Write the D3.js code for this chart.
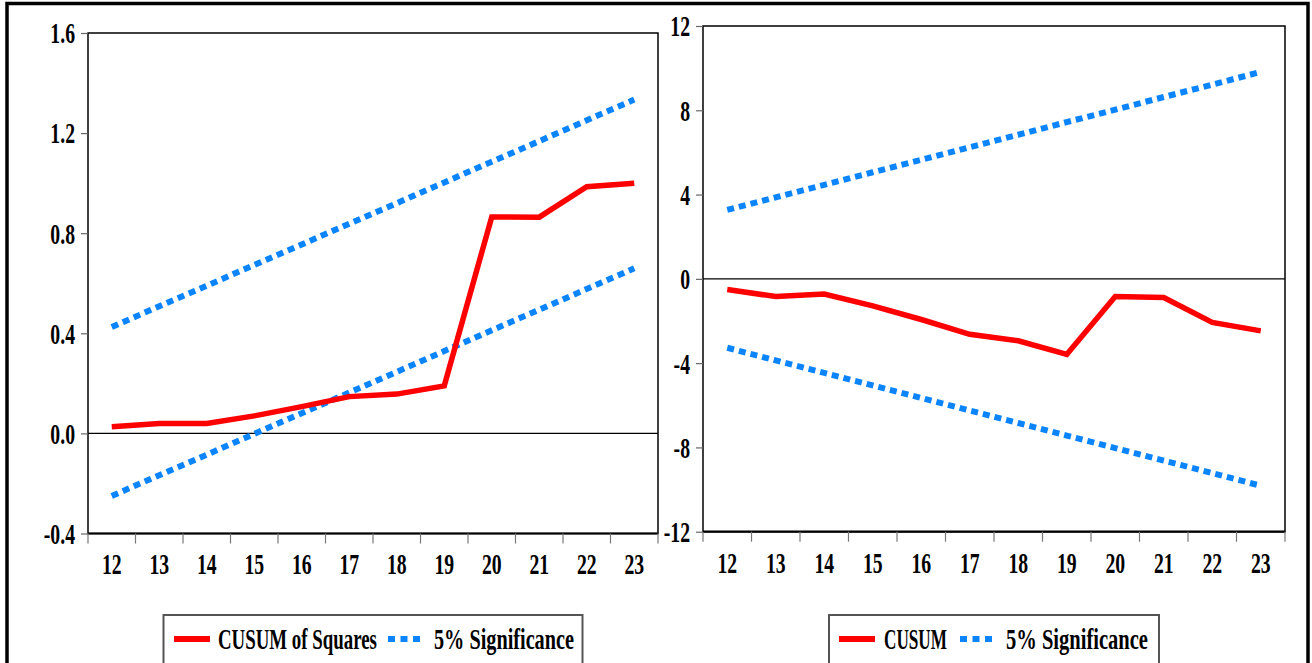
<!DOCTYPE html>
<html>
<head>
<meta charset="utf-8">
<script src="https://cdn.jsdelivr.net/npm/d3@7"></script>
<style>
  html, body { margin: 0; padding: 0; background: #fff; }
  svg text { font-family: "Liberation Serif", "Times New Roman", serif; font-weight: bold; fill: #000; }
</style>
</head>
<body>
<svg id="chart" width="1312" height="663"></svg>
<script>
// ---- data ----
const years = ["12","13","14","15","16","17","18","19","20","21","22","23"];

const cusumSq      = [0.027, 0.040, 0.040, 0.070, 0.107, 0.147, 0.157, 0.190, 0.865, 0.864, 0.986, 1.000];
const cusumSqUpper = [0.425, 0.508, 0.590, 0.673, 0.755, 0.838, 0.920, 1.003, 1.086, 1.168, 1.251, 1.334];
const cusumSqLower = [-0.250, -0.167, -0.085, -0.002, 0.081, 0.163, 0.246, 0.329, 0.412, 0.494, 0.577, 0.660];

const cusum      = [-0.51, -0.84, -0.72, -1.28, -1.93, -2.63, -2.94, -3.59, -0.84, -0.89, -2.07, -2.47];
const cusumUpper = [3.27, 3.87, 4.46, 5.06, 5.65, 6.25, 6.84, 7.44, 8.03, 8.63, 9.22, 9.82];
const cusumLower = [-3.27, -3.87, -4.46, -5.06, -5.65, -6.25, -6.84, -7.44, -8.03, -8.63, -9.22, -9.82];

const leftTicks  = [-0.4, 0.0, 0.4, 0.8, 1.2, 1.6];
const rightTicks = [-12, -8, -4, 0, 4, 8, 12];

const leftLegend  = ["CUSUM of Squares", "5% Significance"];
const rightLegend = ["CUSUM", "5% Significance"];

// ---- drawing ----
const svg = d3.select("#chart");
const RED = "#ff0000", BLUE = "#0a84ff";
const FS = 29;

// outer frame
svg.append("rect").attr("x", 7).attr("y", 3.5).attr("width", 1301).attr("height", 720)
  .attr("fill", "none").attr("stroke", "#000").attr("stroke-width", 3.5);

function panel(cfg) {
  const x = d3.scaleBand().domain(years).range([cfg.x0, cfg.x1]).padding(0);
  const y = d3.scaleLinear().domain(cfg.domain).range([cfg.y1, cfg.y0]);
  const g = svg.append("g");

  // zero line
  g.append("line").attr("x1", cfg.x0).attr("x2", cfg.x1)
    .attr("y1", y(0)).attr("y2", y(0)).attr("stroke", "#000").attr("stroke-width", 1.3);

  // plot box
  g.append("rect").attr("x", cfg.x0).attr("y", cfg.y0)
    .attr("width", cfg.x1 - cfg.x0).attr("height", cfg.y1 - cfg.y0)
    .attr("fill", "none").attr("stroke", "#000").attr("stroke-width", 1.5);
  g.append("line").attr("x1", cfg.x0).attr("x2", cfg.x1)
    .attr("y1", cfg.y1).attr("y2", cfg.y1).attr("stroke", "#000").attr("stroke-width", 2.2);

  // y axis
  const ya = g.append("g").attr("transform", `translate(${cfg.x0},0)`)
    .call(d3.axisLeft(y).tickValues(cfg.ticks).tickSize(7).tickPadding(6).tickFormat(cfg.fmt));
  ya.select(".domain").remove();
  ya.selectAll(".tick line").attr("stroke", "#666").attr("stroke-width", 1.2);
  ya.selectAll("text").attr("font-size", FS).attr("dy", "0.34em").attr("class", "cond");

  // x axis labels
  const xa = g.append("g").attr("transform", `translate(0,${cfg.y1})`)
    .call(d3.axisBottom(x).tickSize(0));
  xa.select(".domain").remove();
  xa.selectAll("text").attr("font-size", FS).attr("y", 41).attr("dy", 0).attr("class", "cond");

  // x boundary ticks
  const bounds = years.map(d => x(d)).concat([x(years[years.length - 1]) + x.bandwidth()]);
  g.append("g").selectAll("line").data(bounds).join("line")
    .attr("x1", d => d).attr("x2", d => d)
    .attr("y1", cfg.y1).attr("y2", cfg.y1 + 10)
    .attr("stroke", "#777").attr("stroke-width", 1.2);

  const line = d3.line().x((d, i) => x(years[i]) + x.bandwidth() / 2).y(d => y(d));

  [cfg.upper, cfg.lower].forEach(s => {
    g.append("path").datum(s).attr("d", line).attr("fill", "none")
      .attr("stroke", BLUE).attr("stroke-width", 6).attr("stroke-dasharray", "7,5");
  });
  g.append("path").datum(cfg.main).attr("d", line).attr("fill", "none")
    .attr("stroke", RED).attr("stroke-width", 5.5).attr("stroke-linejoin", "miter");

  // legend
  const L = cfg.legend;
  const lg = svg.append("g");
  lg.append("rect").attr("x", L.x).attr("y", 615).attr("width", L.w).attr("height", 70)
    .attr("fill", "#fff").attr("stroke", "#555").attr("stroke-width", 2);
  lg.append("line").attr("x1", L.r0).attr("x2", L.r0 + 36).attr("y1", 639).attr("y2", 639)
    .attr("stroke", RED).attr("stroke-width", 6);
  lg.append("text").attr("x", L.t0).attr("y", 649).attr("font-size", FS).attr("class", "cond")
    .attr("data-w", L.w0).text(L.labels[0]);
  lg.append("line").attr("x1", L.b0).attr("x2", L.b0 + 36).attr("y1", 639).attr("y2", 639)
    .attr("stroke", BLUE).attr("stroke-width", 6).attr("stroke-dasharray", "7,5.5");
  lg.append("text").attr("x", L.t1).attr("y", 649).attr("font-size", FS).attr("class", "cond")
    .attr("data-w", L.w1).text(L.labels[1]);
}

panel({
  x0: 88, x1: 658, y0: 33, y1: 533.5, domain: [-0.4, 1.6], ticks: leftTicks,
  fmt: d => d.toFixed(1),
  main: cusumSq, upper: cusumSqUpper, lower: cusumSqLower,
  legend: { x: 163.5, w: 419, r0: 174, t0: 218, w0: 159, b0: 388, t1: 434, w1: 140, labels: leftLegend }
});

panel({
  x0: 703, x1: 1285, y0: 26, y1: 531.7, domain: [-12, 12], ticks: rightTicks,
  fmt: d => String(d),
  main: cusum, upper: cusumUpper, lower: cusumLower,
  legend: { x: 829, w: 330, r0: 839, t0: 884, w0: 63, b0: 960, t1: 1006, w1: 142, labels: rightLegend }
});

// condense the serif text horizontally with a real transform (keeps bounding boxes honest)
svg.selectAll("text.cond").each(function () {
  const t = d3.select(this);
  const natural = this.getComputedTextLength();
  const s = t.attr("data-w") ? +t.attr("data-w") / natural : 0.68;
  const x0 = +(t.attr("x") || 0);
  t.attr("x", 0).attr("transform", `translate(${x0},0) scale(${s},1)`);
});
</script>
</body>
</html>
